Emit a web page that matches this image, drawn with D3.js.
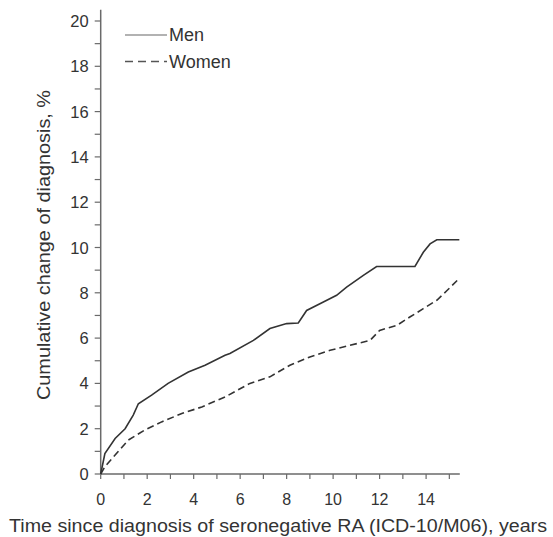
<!DOCTYPE html>
<html>
<head>
<meta charset="utf-8">
<script src="https://cdn.jsdelivr.net/npm/d3@7"></script>
<style>
  body { margin: 0; background: #fff; }
  text { font-family: "Liberation Sans", Arial, sans-serif; fill: #333; }
</style>
</head>
<body>
<script>
// values (years, %)
var menTime   = [0, 0.18, 0.62, 1.05, 1.4, 1.62, 2.19, 2.9, 3.77, 4.49, 5.35, 5.56, 6.57, 7.28, 8.0, 8.5, 8.86, 9.58, 10.15, 10.58, 11.3, 11.87, 13.52, 13.88, 14.17, 14.46, 15.43];
var menValue  = [0, 0.9, 1.57, 2.0, 2.6, 3.1, 3.48, 4.0, 4.5, 4.8, 5.24, 5.32, 5.9, 6.42, 6.64, 6.67, 7.22, 7.59, 7.89, 8.25, 8.77, 9.16, 9.16, 9.79, 10.16, 10.34, 10.34];
var womenTime  = [0, 0.18, 0.62, 1.19, 1.9, 2.62, 3.49, 4.35, 5.35, 6.42, 7.28, 8.14, 9.0, 9.87, 10.72, 11.59, 12.0, 12.74, 13.3, 13.88, 14.46, 14.9, 15.39];
var womenValue = [0, 0.32, 0.84, 1.5, 1.94, 2.3, 2.67, 2.96, 3.4, 4.0, 4.29, 4.8, 5.17, 5.46, 5.68, 5.9, 6.34, 6.56, 6.93, 7.3, 7.67, 8.1, 8.6];
var xTicks = [0, 2, 4, 6, 8, 10, 12, 14];
var yTicks = [0, 2, 4, 6, 8, 10, 12, 14, 16, 18, 20];
var seriesNames = ["Men", "Women"];

var width = 553, height = 537;
var svg = d3.select("body").append("svg").attr("width", width).attr("height", height);

var x = d3.scaleLinear().domain([0, 15.45]).range([100.7, 459.8]);
var y = d3.scaleLinear().domain([0, 20]).range([474, 21]);

var axisColor = "#6a6a6a";

// x axis
var gx = svg.append("g").attr("transform", "translate(0," + y(0) + ")");
gx.append("line").attr("x1", x(0)).attr("x2", x(15.45)).attr("stroke", axisColor).attr("stroke-width", 1.5);
gx.selectAll("line.tick").data(d3.range(0, 16)).enter().append("line")
    .attr("class", "tick")
    .attr("x1", function(d){ return x(d); }).attr("x2", function(d){ return x(d); })
    .attr("y1", 0).attr("y2", 5)
    .attr("stroke", axisColor).attr("stroke-width", 1.2);
gx.selectAll("text").data(xTicks).enter().append("text")
    .attr("x", function(d){ return x(d); })
    .attr("y", 31)
    .attr("text-anchor", "middle")
    .attr("font-size", 16)
    .text(function(d){ return d; });

// y axis
var gy = svg.append("g").attr("transform", "translate(" + x(0) + ",0)");
gy.append("line").attr("y1", y(0)).attr("y2", y(20.5)).attr("stroke", axisColor).attr("stroke-width", 1.5);
gy.selectAll("line.tick").data(d3.range(0, 21)).enter().append("line")
    .attr("class", "tick")
    .attr("y1", function(d){ return y(d); }).attr("y2", function(d){ return y(d); })
    .attr("x1", 0).attr("x2", -6)
    .attr("stroke", axisColor).attr("stroke-width", 1.2);
gy.selectAll("text").data(yTicks).enter().append("text")
    .attr("x", -12)
    .attr("y", function(d){ return y(d) + 6; })
    .attr("text-anchor", "end")
    .attr("font-size", 16.5)
    .text(function(d){ return d; });

// axis titles
svg.append("text")
    .attr("x", 278).attr("y", 532)
    .attr("text-anchor", "middle")
    .attr("font-size", 17.5)
    .attr("textLength", 538).attr("lengthAdjust", "spacingAndGlyphs")
    .text("Time since diagnosis of seronegative RA (ICD-10/M06), years");
svg.append("text")
    .attr("transform", "translate(50,245) rotate(-90)")
    .attr("text-anchor", "middle")
    .attr("font-size", 17.5)
    .attr("textLength", 310).attr("lengthAdjust", "spacingAndGlyphs")
    .text("Cumulative change of diagnosis, %");

// curves
var line = d3.line().x(function(d){ return x(d[0]); }).y(function(d){ return y(d[1]); });
var men = d3.zip(menTime, menValue);
var women = d3.zip(womenTime, womenValue);

svg.append("path").datum(men)
    .attr("d", line)
    .attr("fill", "none").attr("stroke", "#333").attr("stroke-width", 1.6);
svg.append("path").datum(women)
    .attr("d", line)
    .attr("fill", "none").attr("stroke", "#333").attr("stroke-width", 1.6)
    .attr("stroke-dasharray", "7,4");

// legend
var legend = svg.selectAll("g.legend").data(seriesNames).enter().append("g")
    .attr("class", "legend")
    .attr("transform", function(d, i){ return "translate(125," + (35 + i * 26.5) + ")"; });
legend.append("line")
    .attr("x1", 0).attr("x2", 42)
    .attr("stroke", function(d, i){ return i == 0 ? "#999" : "#555"; })
    .attr("stroke-width", 1.3)
    .attr("stroke-dasharray", function(d, i){ return i == 0 ? null : "8,5"; });
legend.append("text")
    .attr("x", 44).attr("y", 6)
    .attr("font-size", 18)
    .text(function(d){ return d; });
</script>
</body>
</html>
